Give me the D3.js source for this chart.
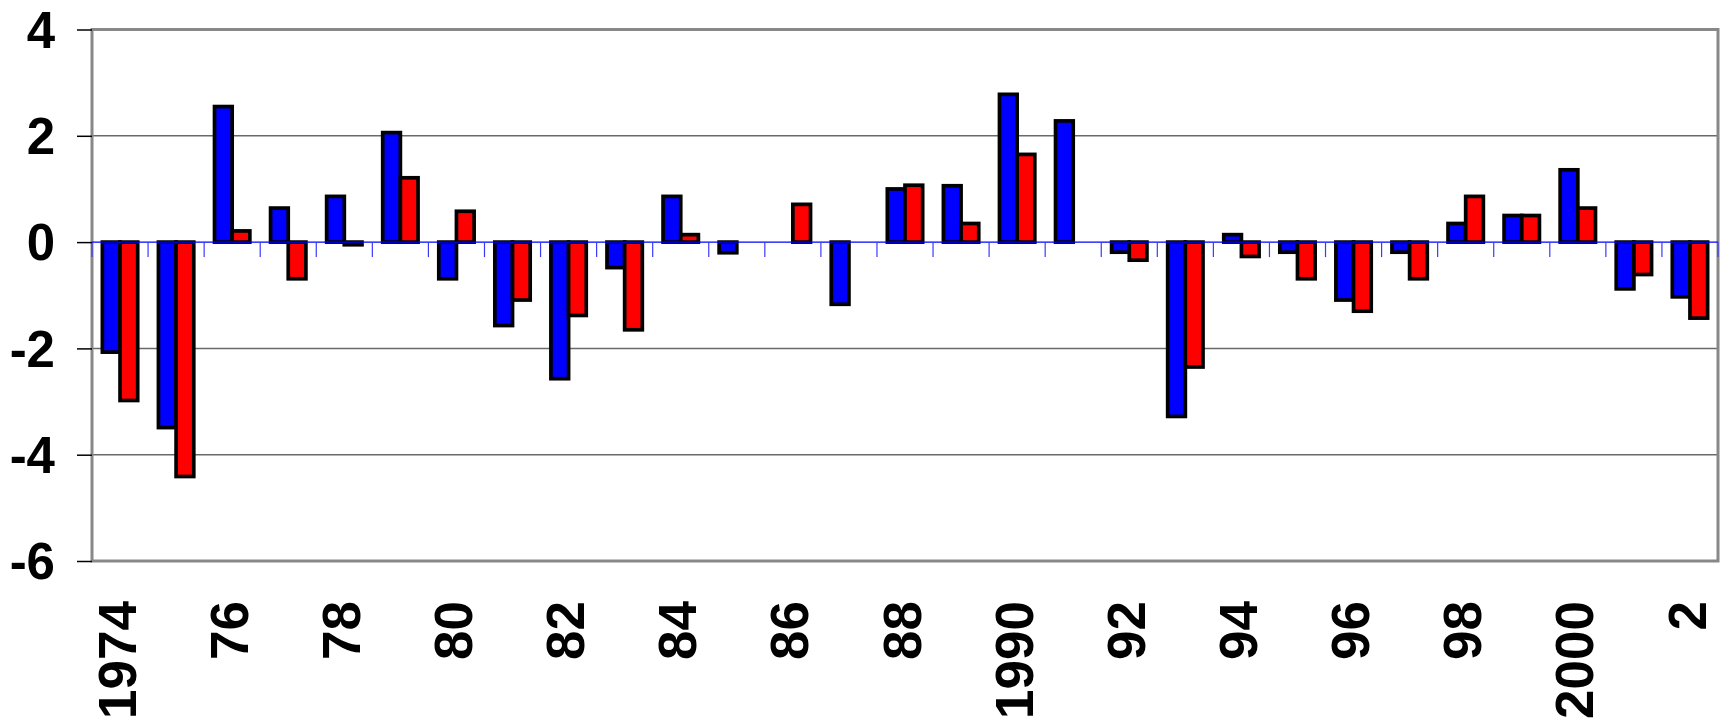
<!DOCTYPE html>
<html>
<head>
<meta charset="utf-8">
<script src="https://cdn.jsdelivr.net/npm/d3@7"></script>
<style>
  body { margin: 0; background: #fff; }
  svg { display: block; }
  text { font-family: "Liberation Sans", Arial, sans-serif; font-weight: bold; fill: #000; }
</style>
</head>
<body>
<svg id="chart" width="1721" height="721"></svg>
<script>
// one category per year
const years = [1974, 1975, 1976, 1977, 1978, 1979, 1980, 1981, 1982, 1983,
  1984, 1985, 1986, 1987, 1988, 1989, 1990, 1991, 1992, 1993,
  1994, 1995, 1996, 1997, 1998, 1999, 2000, 2001, 2002];

// only every other year gets a label
const xLabels = ['1974', '', '76', '', '78', '', '80', '', '82', '', '84', '', '86', '',
  '88', '', '1990', '', '92', '', '94', '', '96', '', '98', '', '2000', '', '2'];

// blue series, null = no bar
const blueValues = [-2.07, -3.49, 2.55, 0.64, 0.86, 2.06, -0.69, -1.57, -2.57, -0.48,
  0.86, -0.20, null, -1.17, 1.00, 1.06, 2.78, 2.28, -0.19, -3.28,
  0.14, -0.19, -1.09, -0.19, 0.35, 0.50, 1.36, -0.88, -1.03];

// red series
const redValues = [-2.98, -4.41, 0.21, -0.69, -0.05, 1.21, 0.58, -1.09, -1.38, -1.65,
  0.14, null, 0.71, null, 1.07, 0.35, 1.65, null, -0.34, -2.35,
  -0.27, -0.69, -1.30, -0.69, 0.86, 0.50, 0.64, -0.61, -1.43];

const yTicks = [-6, -4, -2, 0, 2, 4];

const seriesKeys = ['blue', 'red'];
const colors = { blue: '#0000ff', red: '#ff0000' };

const rows = years.map((yr, i) => ({ year: yr, blue: blueValues[i], red: redValues[i] }));

const svg = d3.select('#chart');
const plotLeft = 92, plotRight = 1718, plotTop = 29.5, plotBottom = 561;

const x0 = d3.scaleBand().domain(years).range([plotLeft, plotRight]).padding(0);
const bw = x0.bandwidth();
// the two bars of a year fill a bit less than 2/3 of the category
const x1 = d3.scaleBand().domain(seriesKeys).range([bw * 0.185, bw * 0.815]).padding(0);
const y = d3.scaleLinear().domain([-6, 4]).range([plotBottom, plotTop]);

// grid lines
svg.append('g')
  .selectAll('line')
  .data(yTicks.filter(d => d !== 0 && d !== 4 && d !== -6))
  .join('line')
  .attr('x1', plotLeft).attr('x2', plotRight)
  .attr('y1', d => y(d)).attr('y2', d => y(d))
  .attr('stroke', '#6a6a6a')
  .attr('stroke-width', 1.5);

// bars
const groups = svg.append('g')
  .selectAll('g')
  .data(rows)
  .join('g')
  .attr('transform', d => `translate(${x0(d.year)},0)`);

groups.selectAll('rect')
  .data(d => seriesKeys.filter(k => d[k] != null).map(k => ({ key: k, value: d[k] })))
  .join('rect')
  .attr('x', d => x1(d.key))
  .attr('width', x1.bandwidth())
  .attr('y', d => y(Math.max(0, d.value)))
  .attr('height', d => Math.abs(y(d.value) - y(0)))
  .attr('fill', d => colors[d.key])
  .attr('stroke', '#000')
  .attr('stroke-width', 3.7);

// plot frame
svg.append('rect')
  .attr('x', plotLeft).attr('y', y(4))
  .attr('width', plotRight - plotLeft).attr('height', y(-6) - y(4))
  .attr('fill', 'none')
  .attr('stroke', '#888')
  .attr('stroke-width', 3);

// category axis along zero, blue with ticks at category boundaries
const zeroY = y(0);
svg.append('line')
  .attr('x1', plotLeft).attr('x2', plotRight)
  .attr('y1', zeroY).attr('y2', zeroY)
  .attr('stroke', '#0000ff')
  .attr('stroke-width', 1.2);

svg.append('g')
  .selectAll('line')
  .data(years.map(d => x0(d)).concat([plotRight]))
  .join('line')
  .attr('x1', d => d).attr('x2', d => d)
  .attr('y1', zeroY).attr('y2', zeroY + 15)
  .attr('stroke', '#3a3aff')
  .attr('stroke-width', 1.2);

// value axis
const yAxis = svg.append('g')
  .attr('transform', `translate(${plotLeft},0)`)
  .call(d3.axisLeft(y).tickValues(yTicks).tickSize(15).tickPadding(22).tickFormat(d => String(d)));
yAxis.select('.domain').remove();
yAxis.selectAll('.tick line').attr('stroke', '#000').attr('stroke-width', 1.5);
yAxis.selectAll('.tick text')
  .style('font-size', '51px')
  .attr('dy', '0.35em');

// year labels, rotated, below the plot
const xAxis = svg.append('g')
  .attr('transform', 'translate(0,601)')
  .call(d3.axisBottom(x0).tickSize(0).tickFormat((d, i) => xLabels[i]));
xAxis.select('.domain').remove();
xAxis.selectAll('.tick text')
  .attr('x', 0).attr('y', 0)
  .attr('dy', '0.35em')
  .attr('transform', 'translate(-3,0) rotate(-90)')
  .attr('text-anchor', 'end')
  .style('font-size', '53px');
</script>
</body>
</html>
